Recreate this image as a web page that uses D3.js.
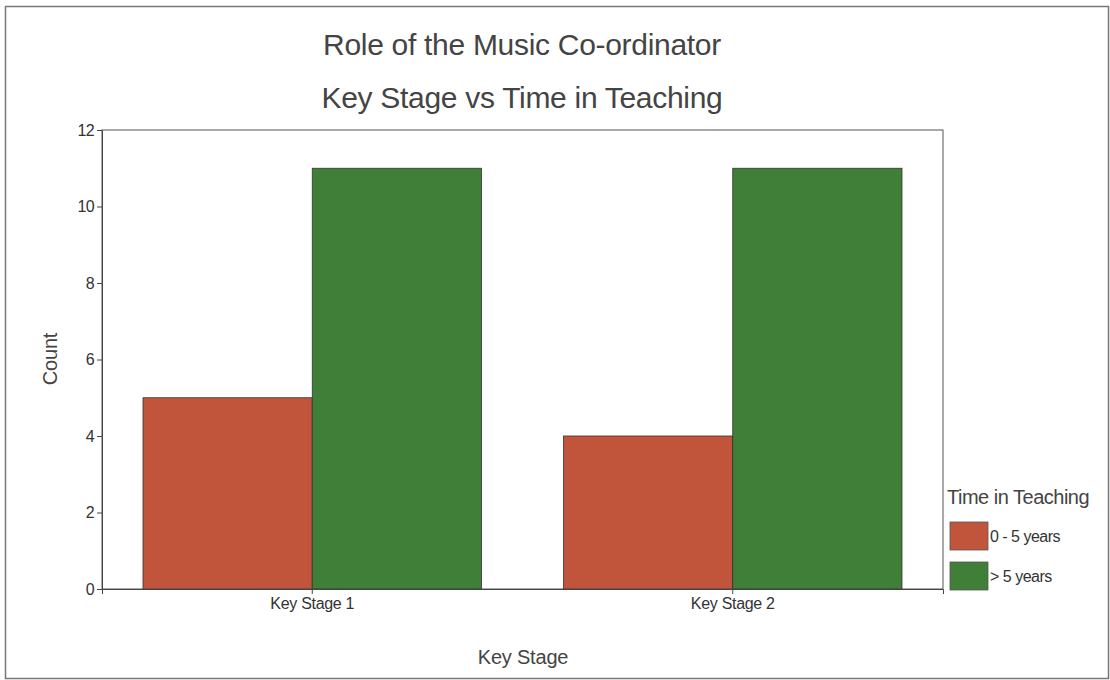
<!DOCTYPE html>
<html><head><meta charset="utf-8">
<script src="https://cdn.jsdelivr.net/npm/d3@7"></script>
<style>body{margin:0;background:#fff}svg{display:block}text{font-family:"Liberation Sans",Arial,sans-serif}</style>
</head><body>
<svg id="c" width="1110" height="680"></svg>
<script>
const categories = ["Key Stage 1", "Key Stage 2"];
const seriesNames = ["0 - 5 years", "> 5 years"];
const series0to5 = [5, 4];
const seriesOver5 = [11, 11];
const yTicks = [0, 2, 4, 6, 8, 10, 12];
const colors = ["#c0553b", "#3f7f37"];

const svg = d3.select("#c");
svg.append("rect").attr("x",5.5).attr("y",6.5).attr("width",1103).attr("height",672)
  .attr("fill","#fff").attr("stroke","#777").attr("stroke-width",1.5);

const L=102, R=943, T=130, B=589;
const x = d3.scaleBand().domain(categories).range([L,R]).paddingInner(0.195).paddingOuter(0.0975);
const xs = d3.scaleBand().domain(seriesNames).range([0,x.bandwidth()]);
const y = d3.scaleLinear().domain([0,12]).range([B,T]);

svg.append("rect").attr("x",L).attr("y",T).attr("width",R-L).attr("height",B-T)
  .attr("fill","none").attr("stroke","#555").attr("stroke-width",1);

const data = categories.map((c,i)=>({cat:c, vals:[series0to5[i], seriesOver5[i]]}));
const g = svg.append("g");
data.forEach(d=>{
  d.vals.forEach((v,j)=>{
    g.append("rect").attr("x",x(d.cat)+xs(seriesNames[j])).attr("y",y(v))
      .attr("width",xs.bandwidth()).attr("height",y(0)-y(v))
      .attr("fill",colors[j]).attr("stroke","#333").attr("stroke-width",0.8);
  });
});

const ya = svg.append("g").attr("transform",`translate(${L},0)`)
  .call(d3.axisLeft(y).tickValues(yTicks).tickSize(5).tickPadding(3));
ya.attr("font-size",null).attr("font-family",null);
ya.select(".domain").attr("stroke","#444");
ya.selectAll(".tick line").attr("stroke","#444");
ya.selectAll("text").style("font-size","16px").attr("fill","#333").attr("letter-spacing","-0.6px");

const xa = svg.append("g").attr("transform",`translate(0,${B})`)
  .call(d3.axisBottom(x).tickSize(5).tickPadding(4));
xa.attr("font-size",null).attr("font-family",null);
xa.select(".domain").attr("stroke","#444");
xa.selectAll(".tick line").attr("stroke","#444");
xa.selectAll("text").style("font-size","16px").attr("fill","#333").attr("letter-spacing","-0.3px");

const tstyle = (s, ls) => s.attr("fill","#444").attr("letter-spacing", ls + "px");
svg.append("text").attr("x",522).attr("y",55).attr("text-anchor","middle")
  .style("font-size","30px").call(tstyle,-0.3).text("Role of the Music Co-ordinator");
svg.append("text").attr("x",522).attr("y",108).attr("text-anchor","middle")
  .style("font-size","30px").call(tstyle,-0.3).text("Key Stage vs Time in Teaching");
svg.append("text").attr("x",523).attr("y",664).attr("text-anchor","middle")
  .style("font-size","20px").call(tstyle,-0.2).text("Key Stage");
svg.append("text").attr("transform","translate(57,359) rotate(-90)").attr("text-anchor","middle")
  .style("font-size","20px").call(tstyle,-0.2).text("Count");

svg.append("text").attr("x",947).attr("y",504).style("font-size","20px")
  .call(tstyle,-0.5).text("Time in Teaching");
seriesNames.forEach((s,j)=>{
  const yy = 522 + j*40;
  svg.append("rect").attr("x",950).attr("y",yy).attr("width",38).attr("height",28)
    .attr("fill",colors[j]).attr("stroke","#555").attr("stroke-width",0.8);
  svg.append("text").attr("x",990).attr("y",yy+20).style("font-size","16px").attr("fill","#333")
    .attr("letter-spacing","-0.5px").text(s);
});
</script>
</body></html>
